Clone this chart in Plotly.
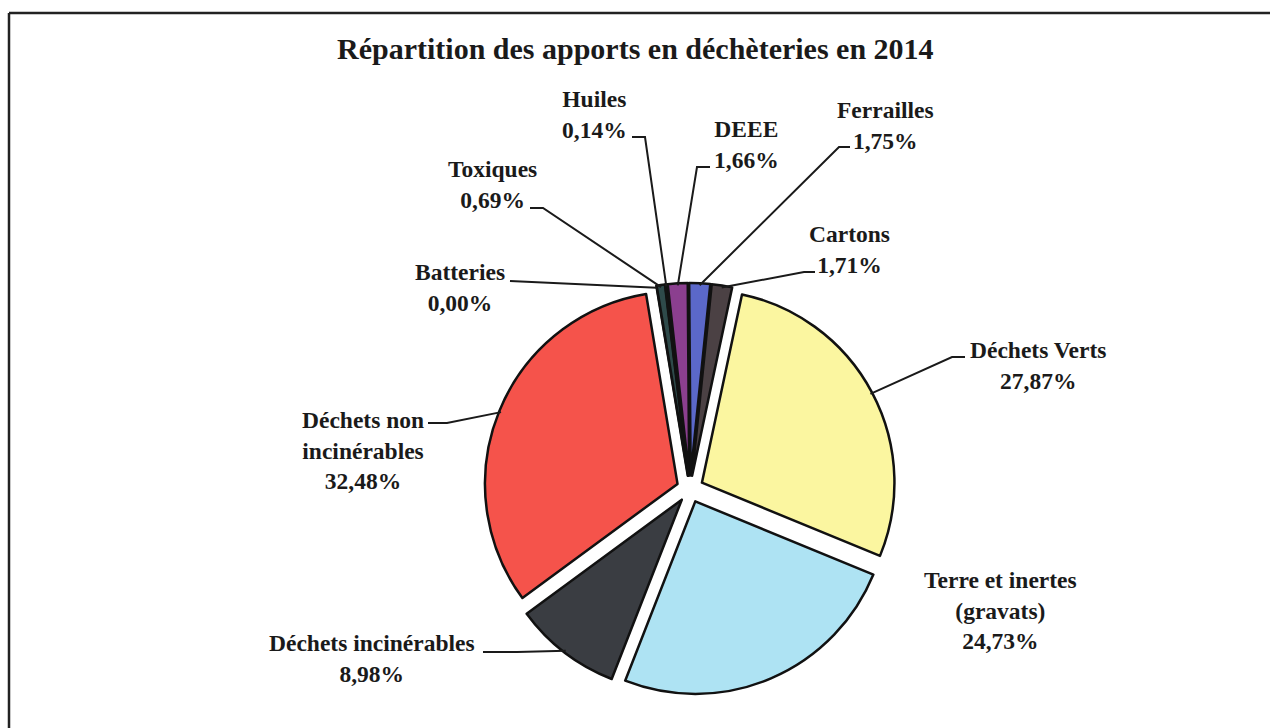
import math
import plotly.graph_objects as go

# ---------------- data ----------------
categories = ["Batteries", "Toxiques", "Huiles", "DEEE", "Ferrailles", "Cartons",
              "Déchets Verts", "Terre et inertes<br>(gravats)", "Déchets incinérables",
              "Déchets non<br>incinérables"]
shares = [0.00, 0.69, 0.14, 1.66, 1.75, 1.71, 27.87, 24.73, 8.98, 32.48]
share_labels = ["0,00%", "0,69%", "0,14%", "1,66%", "1,75%", "1,71%",
                "27,87%", "24,73%", "8,98%", "32,48%"]
title_text = "Répartition des apports en déchèteries en 2014"

# ---------------- styles / layout ----------------
colors = ["#2b4c55", "#2e4a4a", "#4d6b6b", "#8b3f8f", "#5b68c9", "#4b4144",
          "#fbf6a0", "#aee3f3", "#3a3d42", "#f5534b"]
W, H = 1270, 728
CX, CY = 690, 489          # pie centre (px)
R_OUT = 206                # outer radius incl. pull (px)
PULL = 0.07
ROTATION = -9.4
FONT = "Liberation Serif, Times New Roman, serif"

# label block centres (px) and leader-line elbows (px) for each category
label_pos = [(460, 288), (492, 184), (594, 114), (746, 145), (885, 125), (849, 249),
             (1038, 365), (1000, 610), (372, 658), (363, 450)]
leader_start = [[(510, 281)], [(530, 208), (543, 208)], [(632, 137), (645, 137)],
                [(710, 167), (697, 167)], [(850, 147), (839, 147)], [(815, 272), (804, 272)],
                [(965, 357), (952, 357)], None, [(483, 652), (517, 652)],
                [(428, 423), (447, 423)]]


def px(x):
    return x / W


def py(y):
    return 1 - y / H


fig = go.Figure(go.Pie(
    labels=categories, values=shares, sort=False, direction="clockwise",
    rotation=ROTATION, pull=[PULL] * len(shares), textinfo="none",
    marker=dict(colors=colors, line=dict(color="#111111", width=2.5)),
    domain=dict(x=[px(CX - 300), px(CX + 300)], y=[py(CY + R_OUT), py(CY - R_OUT)]),
    showlegend=False, hoverinfo="label+percent",
))

# leader lines: elbow points -> slice edge computed from the data
total = sum(shares)
acc = 0.0
shapes = []
for i, v in enumerate(shares):
    mid = math.radians(ROTATION + (acc + v / 2) / total * 360)
    acc += v
    if leader_start[i] is None:
        continue
    ex = CX + (R_OUT - 2) * math.sin(mid)
    ey = CY - (R_OUT - 2) * math.cos(mid)
    pts = leader_start[i] + [(ex, ey)]
    path = "M " + " L ".join(f"{px(x):.5f},{py(y):.5f}" for x, y in pts)
    shapes.append(dict(type="path", xref="paper", yref="paper", path=path,
                       line=dict(color="#1a1a1a", width=2)))

# frame lines
shapes.append(dict(type="line", xref="paper", yref="paper", x0=px(9), x1=1, y0=py(13), y1=py(13),
                   line=dict(color="#222222", width=2.5)))
shapes.append(dict(type="line", xref="paper", yref="paper", x0=px(9), x1=px(9), y0=py(13), y1=0,
                   line=dict(color="#222222", width=2.5)))

annotations = [dict(text=f"<b>{title_text}</b>", x=px(635), y=py(49), xref="paper", yref="paper",
                    showarrow=False, xanchor="center", yanchor="middle",
                    font=dict(family=FONT, size=30, color="#1a1a1a"))]
for i, name in enumerate(categories):
    lx, ly = label_pos[i]
    annotations.append(dict(text=f"<b>{name}<br>{share_labels[i]}</b>", x=px(lx), y=py(ly),
                            xref="paper", yref="paper", showarrow=False,
                            xanchor="center", yanchor="middle", align="center",
                            font=dict(family=FONT, size=23.5, color="#1a1a1a")))

fig.update_layout(width=W, height=H, margin=dict(l=0, r=0, t=0, b=0),
                  paper_bgcolor="white", plot_bgcolor="white",
                  shapes=shapes, annotations=annotations)
fig.write_html("out.html", config={"displayModeBar": False},
               post_script="document.body.style.margin='0';document.body.style.padding='0';"
                           "document.body.style.overflow='hidden';")
